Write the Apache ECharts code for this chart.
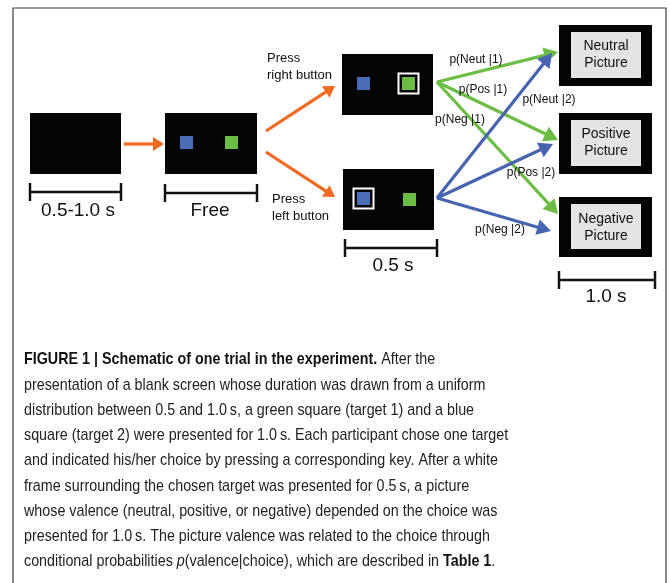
<!DOCTYPE html>
<html>
<head>
<meta charset="utf-8">
<script src="https://cdn.jsdelivr.net/npm/echarts@6/dist/echarts.min.js"></script>
<style>html,body{margin:0;padding:0;background:#fff}#chart{width:671px;height:583px}</style>
</head>
<body>
<div id="chart"></div>
<script>
// what the schematic says
var durations = ['0.5-1.0 s', 'Free', '0.5 s', '1.0 s'];
var buttons = ['Press\nright button', 'Press\nleft button'];
var pictures = ['Neutral\nPicture', 'Positive\nPicture', 'Negative\nPicture'];
var probsTarget1 = ['p(Neut |1)', 'p(Pos |1)', 'p(Neg |1)'];
var probsTarget2 = ['p(Neut |2)', 'p(Pos |2)', 'p(Neg |2)'];
var captionLines = [
	'{b|FIGURE 1 | Schematic of one trial in the experiment.} After the',
	'presentation of a blank screen whose duration was drawn from a uniform',
	'distribution between 0.5 and 1.0\u2009s, a green square (target 1) and a blue',
	'square (target 2) were presented for 1.0\u2009s. Each participant chose one target',
	'and indicated his/her choice by pressing a corresponding key. After a white',
	'frame surrounding the chosen target was presented for 0.5\u2009s, a picture',
	'whose valence (neutral, positive, or negative) depended on the choice was',
	'presented for 1.0\u2009s. The picture valence was related to the choice through',
	'conditional probabilities {i|p}(valence|choice), which are described in {b|Table 1}.'
];

// layout, in the 671 x 583 units of the hidden axes (y down)
var screenBoxes = [[30,113,121,174],[165,113,257,174],[342,54,433,115],[343,169,434,230]];
var pictureBoxes = [[559,25,652,86],[559,113,652,174],[559,197,652,257]];
// x0,y0,x1,y1, colour (0 blue, 1 green), framed
var squares = [
	[180,136,193,149,0,0],[225,136,238,149,1,0],
	[357,77,370,90,0,0],[402,77,415,90,1,1],
	[357,192,370,205,0,1],[403,193,416,206,1,0]
];
var orangeArrows = [[124,144,164,144],[266,131,335,86],[266,152,335,197]];
var greenArrows = [[437,82,558,52],[437,82,558,140],[437,82,558,214]];
var blueArrows = [[437,198,552,53],[437,198,553,144],[437,198,551,231]];
var scaleBars = [[30,121,192],[165,257,193],[345,437,248],[559,655,280]];
var durationPos = [[78,211],[210,211],[393,266],[606,297]];
var buttonPos = [[267,67],[272,208]];
var picturePos = [[606,55],[606,143],[606,228]];
var probPos1 = [[476,60],[483,90],[460,120]];
var probPos2 = [[549,100],[531,173],[500,230]];

var orange = '#f26a21', green = '#6cbd45', blue = '#4664b0';
var squareColors = ['#4a6cb4', '#6abd45'];

var chart = echarts.init(document.getElementById('chart'));

function arrowItem(color, hl, hw) {
	return function (params, api) {
		var a = api.coord([api.value(0), api.value(1)]);
		var b = api.coord([api.value(2), api.value(3)]);
		var dx = b[0] - a[0], dy = b[1] - a[1];
		var len = Math.sqrt(dx * dx + dy * dy);
		var ux = dx / len, uy = dy / len;
		var bx = b[0] - ux * hl, by = b[1] - uy * hl;
		return {
			type: 'group',
			children: [
				{type: 'line', shape: {x1: a[0], y1: a[1], x2: bx + ux * 2, y2: by + uy * 2},
					style: {stroke: color, lineWidth: 3.2}},
				{type: 'polygon', shape: {points: [b, [bx - uy * hw, by + ux * hw], [bx + uy * hw, by - ux * hw]]},
					style: {fill: color}}
			]
		};
	};
}

function boxItem(params, api) {
	var a = api.coord([api.value(0), api.value(1)]);
	var b = api.coord([api.value(2), api.value(3)]);
	return {type: 'rect', shape: {x: a[0], y: a[1], width: b[0] - a[0], height: b[1] - a[1]},
		style: {fill: '#050505'}};
}

function pictureItem(params, api) {
	var a = api.coord([api.value(0), api.value(1)]);
	var b = api.coord([api.value(2), api.value(3)]);
	return {
		type: 'group',
		children: [
			{type: 'rect', shape: {x: a[0], y: a[1], width: b[0] - a[0], height: b[1] - a[1]}, style: {fill: '#050505'}},
			{type: 'rect', shape: {x: a[0] + 12, y: a[1] + 7, width: b[0] - a[0] - 23, height: b[1] - a[1] - 15},
				style: {fill: '#e4e4e4'}}
		]
	};
}

function squareItem(params, api) {
	var a = api.coord([api.value(0), api.value(1)]);
	var b = api.coord([api.value(2), api.value(3)]);
	var kids = [];
	if (api.value(5)) {
		kids.push({type: 'rect', shape: {x: a[0] - 3.5, y: a[1] - 3.5, width: b[0] - a[0] + 7, height: b[1] - a[1] + 7},
			style: {fill: 'none', stroke: '#fff', lineWidth: 2}});
	}
	kids.push({type: 'rect', shape: {x: a[0], y: a[1], width: b[0] - a[0], height: b[1] - a[1]},
		style: {fill: squareColors[api.value(4)]}});
	return {type: 'group', children: kids};
}

function barItem(params, api) {
	var a = api.coord([api.value(0), api.value(2)]);
	var b = api.coord([api.value(1), api.value(2)]);
	var st = {stroke: '#111', lineWidth: 2.5};
	return {
		type: 'group',
		children: [
			{type: 'line', shape: {x1: a[0], y1: a[1], x2: b[0], y2: b[1]}, style: st},
			{type: 'line', shape: {x1: a[0], y1: a[1] - 9, x2: a[0], y2: a[1] + 9}, style: st},
			{type: 'line', shape: {x1: b[0], y1: b[1] - 9, x2: b[0], y2: b[1] + 9}, style: st}
		]
	};
}

function textItem(texts, size, align, lh) {
	return function (params, api) {
		var p = api.coord([api.value(0), api.value(1)]);
		return {
			type: 'text', x: p[0], y: p[1],
			style: {
				text: texts[params.dataIndex], fill: '#111',
				font: size + 'px "Liberation Sans", Arial, sans-serif',
				align: align, verticalAlign: 'middle',
				textAlign: align, textVerticalAlign: 'middle',
				lineHeight: lh
			}
		};
	};
}

function custom(data, render) {
	return {type: 'custom', coordinateSystem: 'cartesian2d', data: data, renderItem: render,
		clip: false, silent: true, animation: false};
}

var option = {
	animation: false,
	grid: {left: 0, right: 0, top: 0, bottom: 0},
	xAxis: {type: 'value', min: 0, max: 671, show: false},
	yAxis: {type: 'value', min: 0, max: 583, inverse: true, show: false},
	graphic: [
		{type: 'polyline', shape: {points: [[13, 583], [13, 8], [666, 8], [666, 583]]},
			style: {stroke: '#3a3a3a', lineWidth: 1.2, fill: 'none'}},
		{type: 'text', left: 24, top: 347, scaleX: 0.842, originX: 0,
			style: {
				text: captionLines.join('\n'),
				font: '17px "Liberation Sans", Arial, sans-serif',
				fill: '#222', lineHeight: 25.25,
				rich: {
					b: {fontWeight: 'bold', fontSize: 17, lineHeight: 25.25, fill: '#111',
						fontFamily: '"Liberation Sans", Arial, sans-serif'},
					i: {fontStyle: 'italic', fontSize: 17, lineHeight: 25.25, fill: '#222',
						fontFamily: '"Liberation Sans", Arial, sans-serif'}
				}
			}}
	],
	series: [
		custom(screenBoxes, boxItem),
		custom(pictureBoxes, pictureItem),
		custom(squares, squareItem),
		custom(orangeArrows, arrowItem(orange, 11, 7)),
		custom(greenArrows, arrowItem(green, 14, 8)),
		custom(blueArrows, arrowItem(blue, 14, 8)),
		custom(scaleBars, barItem),
		custom(durationPos, textItem(durations, 19, 'center', 22)),
		custom(buttonPos, textItem(buttons, 13, 'left', 17)),
		custom(picturePos, textItem(pictures, 14, 'center', 17)),
		custom(probPos1, textItem(probsTarget1, 12, 'center', 14)),
		custom(probPos2, textItem(probsTarget2, 12, 'center', 14))
	]
};

chart.setOption(option);
</script>
</body>
</html>
